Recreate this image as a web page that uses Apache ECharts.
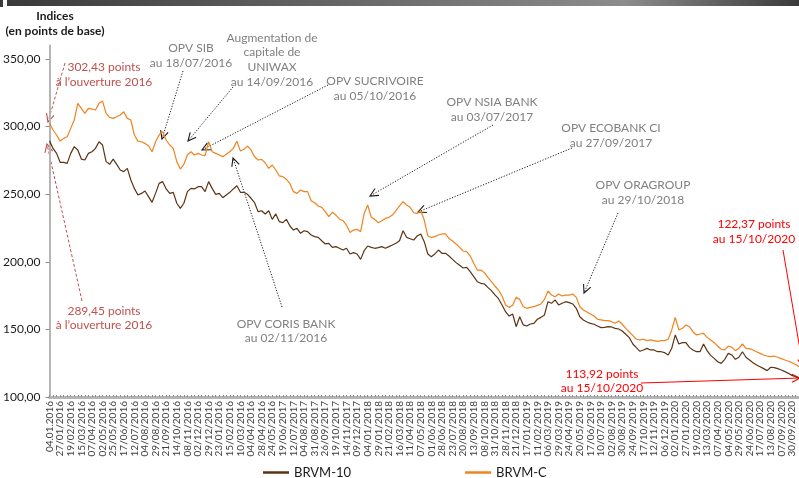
<!DOCTYPE html>
<html><head><meta charset="utf-8">
<script src="https://cdn.jsdelivr.net/npm/echarts@6/dist/echarts.min.js"></script>
<style>html,body{margin:0;padding:0;background:#fff}#c{width:799px;height:478px}</style>
</head><body><div id="c"></div>
<script>
// ---- Data ----
const xLabels = ['04.01.2016','27/01/2016','19/02/2016','15/03/2016','07/04/2016','02/05/2016','25/05/2016','17/06/2016','12/07/2016','04/08/2016','29/08/2016','21/09/2016','14/10/2016','08/11/2016','02/12/2016','29/12/2016','23/01/2016','15/02/2016','10/03/2016','04/04/2016','28/04/2016','24/05/2016','19/06/2017','12/07/2017','04/08/2017','31/08/2017','26/09/2017','19/10/2017','14/11/2017','09/12/2017','04/01/2018','29/01/2018','21/02/2018','16/03/2018','11/04/2018','07/05/2018','01/06/2018','28/06/2018','23/07/2018','20/08/2018','13/09/2018','08/10/2018','31/10/2018','28/11/2018','21/12/2018','17/01/2019','11/02/2019','06/03/2019','29/03/2019','24/04/2019','20/05/2019','17/06/2019','10/07/2019','02/08/2019','30/08/2019','24/09/2019','17/10/2019','12/11/2019','06/12/2019','02/01/2020','27/01/2020','19/02/2020','13/03/2020','07/04/2020','04/05/2020','29/05/2020','24/06/2020','17/07/2020','13/08/2020','07/09/2020','30/09/2020'];
const yTicks = [100,150,200,250,300,350];
const seriesNames = ['BRVM-10','BRVM-C'];
// BRVM-10 (brown)
const brvm10 = [289.45,283.9,280.2,273.6,273.6,272.8,280.2,285.2,282.7,276.0,275.3,280.2,281.4,283.9,288.8,286.4,274.1,272.1,276.0,272.1,267.9,266.7,269.1,260.5,254.3,249.4,250.6,252.4,248.2,244.0,250.6,258.0,259.3,253.9,250.6,251.4,243.3,239.5,243.3,251.9,254.3,253.9,255.6,255.6,251.9,259.3,254.3,249.9,250.6,247.4,249.4,251.4,253.9,256.3,251.4,
251.4,249.9,247.0,243.7,237.1,237.8,235.4,237.8,231.4,235.4,229.7,229.0,231.4,226.5,223.5,224.8,221.1,223.0,222.3,219.8,218.6,218.1,215.6,213.2,213.7,210.7,211.2,210.0,208.7,210.0,205.8,206.8,205.8,201.8,208.2,211.7,210.7,210.0,210.5,211.2,210.0,211.2,212.4,213.7,215.6,223.0,218.1,217.1,216.1,219.1,220.6,214.9,205.8,
203.8,205.8,208.7,206.3,206.3,204.3,201.8,199.4,197.4,195.4,195.9,192.7,189.0,185.3,184.1,183.6,181.1,178.7,175.5,172.7,168.1,163.1,159.9,161.4,152.0,159.4,153.3,152.5,154.0,154.5,157.5,158.9,160.7,170.5,169.3,171.8,168.1,169.3,170.5,169.8,168.8,165.6,159.4,157.0,155.5,154.5,153.8,152.5,151.3,151.5,152.0,151.8,150.8,
150.3,148.8,146.4,143.9,139.2,136.5,133.8,134.8,136.0,134.8,134.8,133.5,133.5,132.8,131.1,136.0,145.9,139.2,140.2,140.2,136.7,134.8,133.5,133.5,139.2,134.3,130.8,128.6,126.1,124.9,127.9,132.3,131.1,127.9,129.4,133.5,129.4,127.4,125.4,123.7,122.4,121.0,119.5,122.0,121.7,121.0,120.0,118.8,117.5,116.0,115.0,113.92];
// BRVM-C (orange)
const brvmC = [302.43,297.5,293.8,289.3,291.3,292.5,298.7,304.9,317.2,313.5,309.8,313.5,313.0,312.3,317.2,318.9,309.8,306.8,306.1,307.3,308.6,311.0,306.1,304.9,293.8,289.3,288.8,287.6,285.9,281.4,288.8,293.8,296.2,290.1,286.4,283.9,274.1,268.6,272.1,279.0,281.4,279.0,280.2,279.0,278.5,288.8,281.4,280.2,279.0,277.8,279.5,281.4,283.9,289.3,281.9,
283.2,285.6,282.7,277.7,275.3,275.8,273.3,269.1,271.6,267.9,263.5,263.0,261.0,258.0,251.9,250.6,253.1,251.9,251.9,245.2,243.7,241.3,240.3,237.1,233.4,236.6,234.6,231.7,230.4,227.2,221.6,223.5,224.0,222.3,235.8,242.0,232.9,231.4,228.9,230.4,232.1,232.9,234.6,237.8,241.3,244.5,242.0,240.3,236.3,235.8,237.8,230.9,219.1,
218.1,218.6,219.8,220.6,220.6,217.3,215.4,213.2,210.7,208.0,207.5,204.3,198.9,193.9,193.9,192.0,188.5,185.3,182.1,179.1,174.7,168.1,166.3,167.8,173.7,172.2,166.8,165.6,166.3,166.8,167.8,168.8,172.2,178.4,175.4,174.2,176.2,174.7,175.4,175.4,176.2,173.7,166.8,164.4,162.9,161.4,159.9,157.5,157.0,156.5,156.5,155.7,154.5,
156.2,153.8,150.8,148.1,145.4,142.7,142.2,142.7,141.7,142.2,141.7,141.2,141.7,141.7,142.7,149.6,158.9,149.6,150.8,153.3,152.0,148.3,145.9,146.6,147.1,144.1,142.2,140.2,137.7,135.3,134.8,137.7,136.7,134.3,136.0,139.2,136.0,135.8,134.8,133.5,132.3,131.1,130.3,129.8,130.3,129.4,128.4,127.4,126.4,125.4,124.0,122.37];
const STEP = 3; // samples between two labelled dates
const categories = brvmC.map((_, i) => (i % STEP === 0 && xLabels[i / STEP]) ? xLabels[i / STEP] : ('p' + i));

// ---- Annotations (layout) ----
const grayNotes = [
  {lines:['OPV SIB','au 18/07/2016'], x:191, y:[48,63], from:[183,71], to:[162,139]},
  {lines:['Augmentation de','capitale de','UNIWAX','au 14/09/2016'], x:272, y:[38,52.5,67.5,82], from:[233,87], to:[188,141]},
  {lines:['OPV SUCRIVOIRE','au 05/10/2016'], x:375, y:[81,96], from:[328,85], to:[202,150]},
  {lines:['OPV NSIA BANK','au 03/07/2017'], x:492, y:[102,117], from:[493,125], to:[370,196]},
  {lines:['OPV ECOBANK CI','au 27/09/2017'], x:611, y:[128,143], from:[572,148], to:[418,212]},
  {lines:['OPV ORAGROUP','au 29/10/2018'], x:643, y:[185.5,200.5], from:[618,213], to:[584,293]},
  {lines:['OPV CORIS BANK','au 02/11/2016'], x:286, y:[324,338], from:[282,307], to:[233,158]}
];
const redNotes = [
  {lines:['302,43 points','à l\u2019ouverture 2016'], x:104, y:[67.5,82.5], color:'#c0504d', dash:[3,2], from:[65,63], to:[48,122]},
  {lines:['289,45 points','à l\u2019ouverture 2016'], x:104, y:[311,325.5], color:'#c0504d', dash:[3,2], from:[82,301], to:[47,144]},
  {lines:['122,37 points','au 15/10/2020'], x:754, y:[224,239], color:'#ff0000', dash:null, from:[783,250], to:[803,367]},
  {lines:['113,92 points','au 15/10/2020'], x:602, y:[374,388.5], color:'#ff0000', dash:null, from:[641,383], to:[800,378]}
];

function arrow(from, to, color, dash, width) {
  const [x1,y1] = from, [x2,y2] = to;
  const a = Math.atan2(y2 - y1, x2 - x1), L = 9, h = 0.45;
  return [
    {type:'line', silent:true, shape:{x1,y1,x2,y2}, style:{stroke:color, lineWidth:width, lineDash:dash || null}},
    {type:'polyline', silent:true, shape:{points:[[x2 - L*Math.cos(a-h), y2 - L*Math.sin(a-h)], [x2,y2], [x2 - L*Math.cos(a+h), y2 - L*Math.sin(a+h)]]},
     style:{stroke:color, lineWidth:1.1, fill:null}}
  ];
}
function texts(n, color) {
  return n.lines.map((t, i) => ({type:'text', silent:true, x:n.x, y:n.y[i],
    style:{text:t, fill:color, font:'12px Lato', align:'center', verticalAlign:'middle'}}));
}
const graphics = [
  {type:'rect', silent:true, shape:{x:0,y:0,width:3,height:7}, style:{fill:'#3a3a3a'}},
  {type:'rect', silent:true, shape:{x:7,y:0,width:792,height:6},
   style:{fill:new echarts.graphic.LinearGradient(0,0,1,0,[{offset:0,color:'#3a3a3a'},{offset:0.78,color:'#8c8c8c'},{offset:1,color:'#3a3a3a'}])}},
  {type:'text', silent:true, x:55, y:16, style:{text:'Indices', fill:'#1a1a1a', font:'bold 12px Lato', align:'center', verticalAlign:'middle'}},
  {type:'text', silent:true, x:55, y:31, style:{text:'(en points de base)', fill:'#1a1a1a', font:'bold 12px Lato', align:'center', verticalAlign:'middle'}}
];
grayNotes.forEach(n => { graphics.push(...texts(n, '#808080')); graphics.push(...arrow(n.from, n.to, '#1a1a1a', [1.2,1.6], 1)); });
redNotes.forEach(n => { graphics.push(...texts(n, n.color)); graphics.push(...arrow(n.from, n.to, n.color, n.dash, 1)); });

const chart = echarts.init(document.getElementById('c'), null, {renderer:'canvas'});
chart.setOption({
  animation:false,
  backgroundColor:'#ffffff',
  grid:{left:47, right:-4, top:45.5, bottom:81, containLabel:false},
  xAxis:{
    type:'category', data:categories, boundaryGap:false,
    axisLine:{show:true, lineStyle:{color:'#b5b5b5', width:3}},
    axisTick:{show:true, interval:0, inside:true, length:2, lineStyle:{color:'#8e8e8e', width:1}},
    axisLabel:{rotate:90, interval:0, margin:4, color:'#404040', fontSize:10, fontFamily:'Lato',
      formatter:(v, i) => (i % STEP === 0 && xLabels[i / STEP]) ? xLabels[i / STEP] : ''},
    splitLine:{show:false}
  },
  yAxis:{
    type:'value', min:100, max:360,
    axisLine:{show:true, lineStyle:{color:'#b5b5b5', width:2}},
    axisTick:{show:true, length:4, customValues:yTicks, lineStyle:{color:'#8e8e8e'}},
    axisLabel:{customValues:yTicks, margin:9, color:'#1a1a1a', fontSize:12, fontFamily:'Lato',
      formatter:v => v.toFixed(2).replace('.', ',')},
    splitLine:{show:false}
  },
  legend:{
    data:seriesNames, left:258, top:461, icon:'rect', itemWidth:26, itemHeight:2.5, itemGap:114,
    textStyle:{fontSize:13, color:'#1a1a1a', fontFamily:'Lato'}
  },
  series:[
    {name:seriesNames[0], type:'line', data:brvm10, showSymbol:false, symbol:'none', color:'#5c3414',
     lineStyle:{width:1.2, color:'#5c3414'}},
    {name:seriesNames[1], type:'line', data:brvmC, showSymbol:false, symbol:'none', color:'#f0831e',
     lineStyle:{width:1.2, color:'#f0831e'}}
  ],
  graphic:graphics
});
</script></body></html>
